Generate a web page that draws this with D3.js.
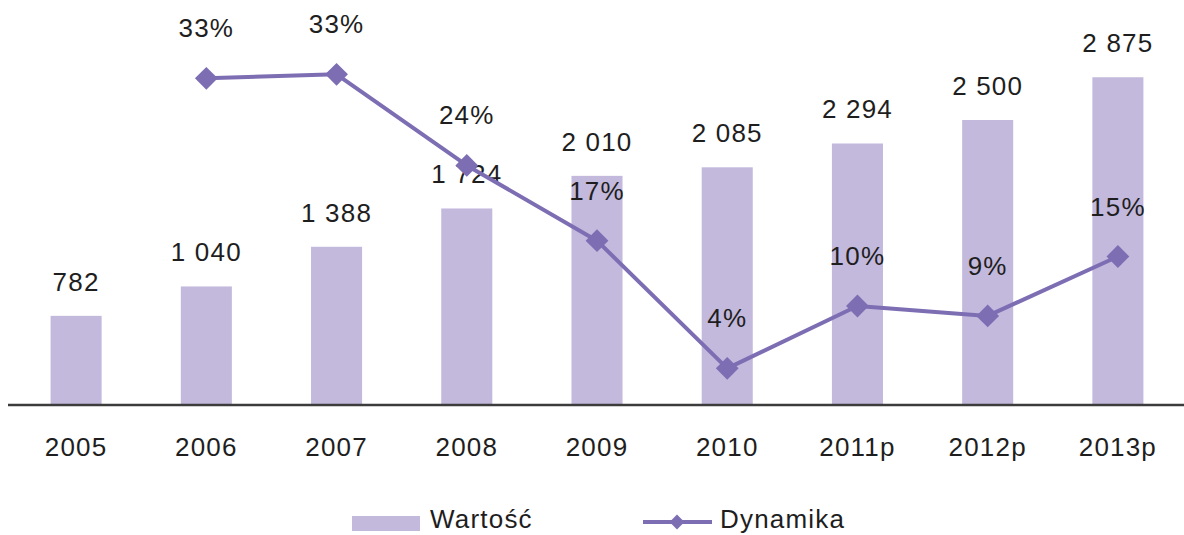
<!DOCTYPE html>
<html>
<head>
<meta charset="utf-8">
<script src="https://cdn.jsdelivr.net/npm/d3@7"></script>
<style>
  html, body { margin: 0; padding: 0; background: #fff; }
  svg text { font-family: "Liberation Sans", Arial, sans-serif; fill: #1e1e1e; }
</style>
</head>
<body>
<svg id="chart" width="1184" height="535"></svg>
<script>
const categories = ["2005", "2006", "2007", "2008", "2009", "2010", "2011p", "2012p", "2013p"];
const wartosc = [782, 1040, 1388, 1724, 2010, 2085, 2294, 2500, 2875];
const dynamika = [null, 33.0, 33.4, 24.2, 16.6, 3.7, 10.0, 9.0, 15.0];
const seriesNames = ["Wartość", "Dynamika"];

const W = 1184, H = 535;
const barColor = "#c3b9dd";
const lineColor = "#7d6eb4";
const fontSize = 26;
const ls = 1.2;

const svg = d3.select("#chart");

const x = d3.scaleBand().domain(categories).range([11, 1183]).paddingInner(0.608).paddingOuter(0.304);
const y = d3.scaleLinear().domain([0, 3500]).range([405, 6]);
const y2 = d3.scaleLinear().domain([0, 40]).range([405, 9]);

const loc = d3.formatLocale({ decimal: ",", thousands: "\u00a0", grouping: [3], currency: ["", " zł"] });
const fmt = loc.format(",d");

// bars
svg.append("g").selectAll("rect").data(wartosc).join("rect")
  .attr("x", (d, i) => x(categories[i]))
  .attr("y", d => y(d))
  .attr("width", x.bandwidth())
  .attr("height", d => y(0) - y(d))
  .attr("fill", barColor);

// bar labels
svg.append("g").selectAll("text").data(wartosc).join("text")
  .attr("x", (d, i) => x(categories[i]) + x.bandwidth() / 2)
  .attr("y", d => y(d) - 25)
  .attr("text-anchor", "middle")
  .attr("font-size", fontSize)
  .attr("letter-spacing", ls)
  .text(d => fmt(d));

// axis
const axisG = svg.append("g").attr("transform", `translate(0,${y(0)})`)
  .call(d3.axisBottom(x).tickSize(0).tickPadding(33));
axisG.select(".domain").remove();
axisG.selectAll("text")
  .attr("font-size", fontSize)
  .attr("letter-spacing", ls)
  .attr("font-family", "'Liberation Sans', Arial, sans-serif")
  .attr("fill", "#1e1e1e")
  .attr("dy", "0.71em");
svg.append("line")
  .attr("x1", x.range()[0] - 3).attr("x2", W)
  .attr("y1", y(0)).attr("y2", y(0))
  .attr("stroke", "#3c3c3c").attr("stroke-width", 2.5);

// line series
const pts = dynamika.map((d, i) => ({ c: categories[i], v: d })).filter(p => p.v !== null);
const line = d3.line().x(p => x(p.c) + x.bandwidth() / 2).y(p => y2(p.v));
svg.append("path").datum(pts)
  .attr("d", line)
  .attr("fill", "none")
  .attr("stroke", lineColor)
  .attr("stroke-width", 4)
  .attr("stroke-linejoin", "round");

const diamond = d3.symbol().type(d3.symbolSquare).size(260);
svg.append("g").selectAll("path").data(pts).join("path")
  .attr("d", diamond)
  .attr("transform", p => `translate(${x(p.c) + x.bandwidth() / 2},${y2(p.v)}) rotate(45)`)
  .attr("fill", lineColor);

svg.append("g").selectAll("text").data(pts).join("text")
  .attr("x", p => x(p.c) + x.bandwidth() / 2)
  .attr("y", p => y2(p.v) - 41)
  .attr("text-anchor", "middle")
  .attr("font-size", fontSize)
  .attr("letter-spacing", ls)
  .text(p => Math.round(p.v) + "%");

// legend
const leg = svg.append("g");
leg.append("rect").attr("x", 352).attr("y", 516).attr("width", 68).attr("height", 15).attr("fill", barColor);
leg.append("text").attr("x", 430).attr("y", 528).attr("font-size", fontSize).attr("letter-spacing", ls).text(seriesNames[0]);
leg.append("line").attr("x1", 643).attr("x2", 712).attr("y1", 522).attr("y2", 522)
  .attr("stroke", lineColor).attr("stroke-width", 4);
leg.append("path").attr("d", d3.symbol().type(d3.symbolSquare).size(110))
  .attr("transform", "translate(677,522) rotate(45)").attr("fill", lineColor);
leg.append("text").attr("x", 720).attr("y", 528).attr("font-size", fontSize).attr("letter-spacing", ls).text(seriesNames[1]);
</script>
</body>
</html>
